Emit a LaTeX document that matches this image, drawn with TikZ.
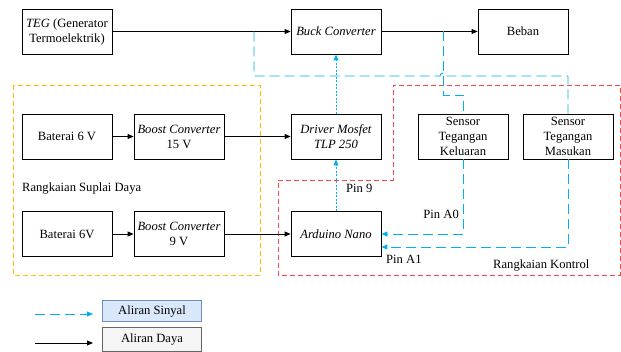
\documentclass[tikz,border=0pt]{standalone}
\usepackage{fontspec}
\setmainfont{Liberation Serif}
\usetikzlibrary{arrows.meta}
\definecolor{sig}{RGB}{0,176,240}
\definecolor{yel}{RGB}{255,192,0}
\definecolor{redd}{RGB}{255,70,70}
\tikzset{
  box/.style={draw=black,line width=0.8pt,minimum width=90pt,minimum height=45pt,inner sep=0pt,align=center,font=\fontsize{12.6}{15}\selectfont},
  pow/.style={draw=black,line width=0.8pt,-{Triangle[length=6pt,width=5pt]}},
  sigd/.style={draw=sig,line width=0.9pt,dash pattern=on 10pt off 5pt,-{Triangle[length=6pt,width=5pt]}},
  sign/.style={draw=sig,line width=0.9pt,dash pattern=on 10pt off 5pt},
  sigdot/.style={draw=sig,line width=0.9pt,dash pattern=on 2pt off 1.5pt,-{Triangle[length=6pt,width=5pt]}},
  lbl/.style={font=\fontsize{12.6}{15}\selectfont,inner sep=0pt},
  grp/.style={line width=0.9pt,dash pattern=on 5pt off 3pt}
}
\begin{document}
\begin{tikzpicture}[x=1pt,y=-1pt]
\useasboundingbox (0,0) rectangle (621,352);
% groups
\draw[grp,yel] (13,85) rectangle (260,275);
\draw[grp,redd] (278,180) -- (393,180) -- (393,85) -- (620,85) -- (620,275) -- (278,275) -- cycle;
% boxes
\node[box] (teg) at (67,31.5) {\textit{TEG} (Generator\\Termoelektrik)};
\node[box] (buck) at (336,31.5) {\textit{Buck Converter}};
\node[box] (beban) at (523,31.5) {Beban};
\node[box] (bat1) at (67,136.5) {Baterai 6 V};
\node[box] (bst1) at (179,136.5) {\textit{Boost Converter}\\15 V};
\node[box] (drv) at (336,136.5) {\textit{Driver Mosfet}\\\textit{TLP 250}};
\node[box] (skel) at (463,136.5) {Sensor\\Tegangan\\Keluaran};
\node[box] (smas) at (568,136.5) {Sensor\\Tegangan\\Masukan};
\node[box] (bat2) at (67,234) {Baterai 6V};
\node[box] (bst2) at (179,234) {\textit{Boost Converter}\\9 V};
\node[box] (ard) at (336,234) {\textit{Arduino Nano}};
% power arrows
\draw[pow] (teg.east) -- (buck.west);
\draw[pow] (buck.east) -- (beban.west);
\draw[pow] (bat1.east) -- (bst1.west);
\draw[pow] (bst1.east) -- (drv.west);
\draw[pow] (bat2.east) -- (bst2.west);
\draw[pow] (bst2.east) -- (ard.west);
% signal sense lines
\coordinate (tin) at (254,31.5);
\coordinate (tout) at (443,31.5);
\draw[sign] (tin) -- (254,76) -- (440,76) arc[start angle=180,end angle=0,radius=3pt] -- (568,76) -- (smas.north);
\draw[sign] (tout) -- (443,95) -- (463,95) -- (skel.north);
\draw[sigd] (skel.south) -- (463,234) -- (ard.east);
\draw[sigd] (smas.south) -- (568,247) -- (ard.south east |- 0,247);
\draw[sigdot] (ard.north) -- (drv.south);
\draw[sigdot] (drv.north) -- (buck.south);
% labels
\node[lbl,anchor=west] (l9) at (346,188) {Pin 9};
\node[lbl,anchor=east] (la0) at (459,214) {Pin A0};
\node[lbl,anchor=west] (la1) at (386,259) {Pin A1};
\node[lbl,anchor=west] (lsup) at (22,188) {Rangkaian Suplai Daya};
\node[lbl,anchor=west] (lkon) at (493,265) {Rangkaian Kontrol};
% legend
\node[draw={rgb,255:red,108;green,142;blue,191},fill={rgb,255:red,218;green,232;blue,252},minimum width=99pt,minimum height=21pt,inner sep=0pt,font=\fontsize{12.6}{15}\selectfont] (leg1) at (152,311) {Aliran Sinyal};
\node[draw={rgb,255:red,102;green,102;blue,102},fill={rgb,255:red,245;green,245;blue,245},minimum width=99pt,minimum height=24pt,inner sep=0pt,font=\fontsize{12.6}{15}\selectfont] (leg2) at (152,339.5) {Aliran Daya};
\coordinate (a1s) at (35,314);
\coordinate (a1e) at (93,314);
\coordinate (a2s) at (35,343);
\coordinate (a2e) at (93,343);
\draw[sigd] (a1s) -- (a1e);
\draw[pow] (a2s) -- (a2e);
\end{tikzpicture}
\end{document}
